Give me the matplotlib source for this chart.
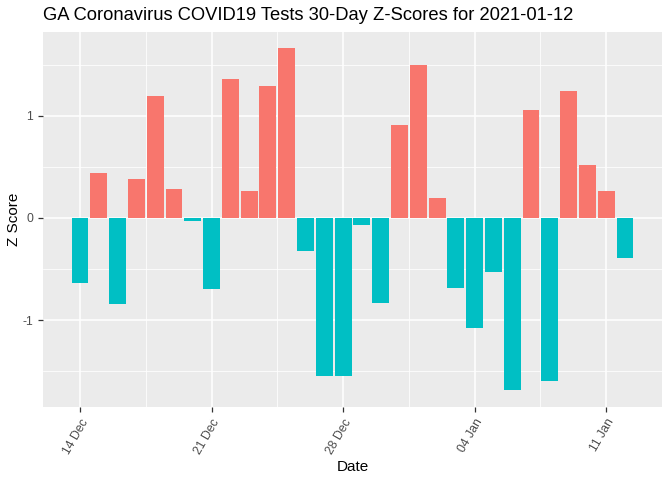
import matplotlib
matplotlib.use("Agg")
import matplotlib.pyplot as plt
import matplotlib.dates as mdates
import numpy as np
import pandas as pd

plt.rcParams["font.family"] = ["Liberation Sans", "DejaVu Sans"]

dates = pd.date_range("2020-12-14", "2021-01-12", freq="D")
z_scores = [
    -0.64, 0.44, -0.84, 0.38, 1.19, 0.28, -0.03, -0.70, 1.36, 0.26,
    1.29, 1.66, -0.32, -1.55, -1.55, -0.07, -0.83, 0.91, 1.50, 0.20,
    -0.69, -1.08, -0.53, -1.68, 1.06, -1.60, 1.24, 0.52, 0.26, -0.39,
]
tick_dates = pd.to_datetime(["2020-12-14", "2020-12-21", "2020-12-28", "2021-01-04", "2021-01-11"])
minor_dates = tick_dates[:-1] + pd.Timedelta(hours=84)

POS = "#F8766D"
NEG = "#00BFC4"

fig = plt.figure(figsize=(6.72, 4.8), dpi=100)
ax = fig.add_axes([43 / 672, 1 - 407 / 480, (662 - 43) / 672, (407 - 32) / 480])
ax.set_facecolor("#EBEBEB")

x = mdates.date2num(dates)
colors = [POS if v > 0 else NEG for v in z_scores]
ax.bar(x, z_scores, width=0.9, color=colors, zorder=3)

ax.set_xlim(x[0] - 1.97, x[-1] + 1.97)
ax.set_ylim(-1.85, 1.82)

ax.set_xticks(mdates.date2num(tick_dates))
ax.set_xticklabels([d.strftime("%d %b") for d in tick_dates], rotation=60,
                   ha="right", rotation_mode="anchor", color="#4D4D4D", fontsize=8.8)
ax.set_xticks(mdates.date2num(minor_dates), minor=True)
ax.set_yticks([-1, 0, 1])
ax.set_yticklabels(["-1", "0", "1"], color="#4D4D4D", fontsize=8.8)
ax.set_yticks([-1.5, -0.5, 0.5, 1.5], minor=True)

ax.grid(True, which="major", color="white", linewidth=1.1, zorder=0)
ax.grid(True, which="minor", color="white", linewidth=0.55, zorder=0)
ax.set_axisbelow(True)
for s in ax.spines.values():
    s.set_visible(False)
ax.tick_params(which="major", length=3.5, color="#333333", width=0.9)
ax.tick_params(which="minor", length=0)

ax.set_xlabel("Date", fontsize=11, labelpad=3)
ax.set_ylabel("Z Score", fontsize=11, labelpad=1)
fig.text(43 / 672, 1 - 16 / 480, "GA Coronavirus COVID19 Tests 30-Day Z-Scores for 2021-01-12",
         fontsize=13.2, va="center", ha="left")

fig.savefig("out.png", dpi=100)
